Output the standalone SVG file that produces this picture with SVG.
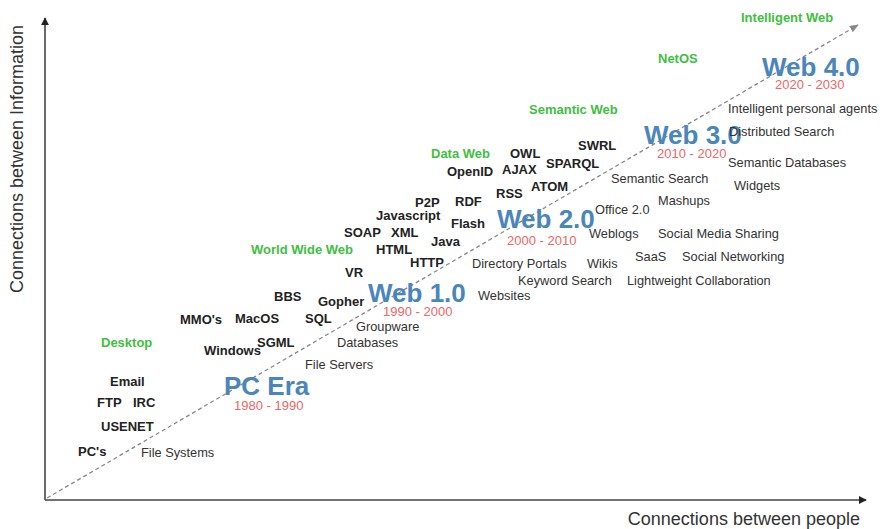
<svg xmlns="http://www.w3.org/2000/svg" width="880" height="529" viewBox="0 0 880 529">
<defs>
<style>
text{font-family:"Liberation Sans",Arial,sans-serif}
.ax{font-size:18px;fill:#333}
.k{font-size:13px;font-weight:bold;fill:#222}
.g{font-size:13px;font-weight:bold;fill:#40c040}
.t{font-size:12.8px;fill:#333}
.era{font-size:26px;font-weight:bold;fill:#4a86ba}
.yr{font-size:13px;fill:#ee6666}
.axis{stroke:#444;stroke-width:1.6;fill:none}
.trend{stroke:#888;stroke-width:1.3;stroke-dasharray:4 3;fill:none}
</style>
<marker id="ah" viewBox="0 0 10 10" refX="9" refY="5" markerWidth="8" markerHeight="8" markerUnits="userSpaceOnUse" orient="auto">
<path d="M0,0 L10,5 L0,10 z" fill="#222"/>
</marker>
<marker id="ah2" viewBox="0 0 10 10" refX="9" refY="5" markerWidth="9" markerHeight="9" markerUnits="userSpaceOnUse" orient="auto">
<path d="M0,1 L10,5 L0,9 z" fill="#888"/>
</marker>
</defs>
<rect width="880" height="529" fill="#fff"/>
<g id="connectors">
<path class="axis" d="M45,500 L45,18" marker-end="url(#ah)"/>
<path class="axis" d="M45,500 L866,500" marker-end="url(#ah)"/>
<path class="trend" d="M47,498 L858,25" marker-end="url(#ah2)"/>
</g>
<g id="axis-labels">
<text class="ax" transform="translate(23,159) rotate(-90)" text-anchor="middle">Connections between Information</text>
<text class="ax" x="860" y="525" text-anchor="end">Connections between people</text>
</g>
<g id="eras">
<g id="pc-era"><text class="era" x="224" y="395">PC Era</text><text class="yr" x="234" y="410">1980 - 1990</text></g>
<g id="web1"><text class="era" x="368" y="302">Web 1.0</text><text class="yr" x="383" y="316">1990 - 2000</text></g>
<g id="web2"><text class="era" x="497" y="228">Web 2.0</text><text class="yr" x="507" y="245">2000 - 2010</text></g>
<g id="web3"><text class="era" x="644" y="144">Web 3.0</text><text class="yr" x="657" y="158">2010 - 2020</text></g>
<g id="web4"><text class="era" x="762" y="76">Web 4.0</text><text class="yr" x="775" y="89">2020 - 2030</text></g>
</g>
<g id="phases">
<text class="g" x="101" y="347">Desktop</text>
<text class="g" x="251" y="254">World Wide Web</text>
<text class="g" x="431" y="158">Data Web</text>
<text class="g" x="529" y="114">Semantic Web</text>
<text class="g" x="658" y="63">NetOS</text>
<text class="g" x="741" y="22">Intelligent Web</text>
</g>
<g id="technologies">
<text class="k" x="78" y="456">PC's</text>
<text class="k" x="101" y="431">USENET</text>
<text class="k" x="97" y="407">FTP</text>
<text class="k" x="133" y="407">IRC</text>
<text class="k" x="110" y="386">Email</text>
<text class="k" x="204" y="355">Windows</text>
<text class="k" x="257" y="347">SGML</text>
<text class="k" x="180" y="324">MMO's</text>
<text class="k" x="235" y="323">MacOS</text>
<text class="k" x="305" y="323">SQL</text>
<text class="k" x="274" y="301">BBS</text>
<text class="k" x="318" y="306">Gopher</text>
<text class="k" x="345" y="277">VR</text>
<text class="k" x="410" y="267">HTTP</text>
<text class="k" x="376" y="254">HTML</text>
<text class="k" x="344" y="237">SOAP</text>
<text class="k" x="391" y="237">XML</text>
<text class="k" x="431" y="246">Java</text>
<text class="k" x="376" y="220">Javascript</text>
<text class="k" x="415" y="207">P2P</text>
<text class="k" x="455" y="206">RDF</text>
<text class="k" x="451" y="228">Flash</text>
<text class="k" x="496" y="198">RSS</text>
<text class="k" x="531" y="191">ATOM</text>
<text class="k" x="447" y="176">OpenID</text>
<text class="k" x="502" y="174">AJAX</text>
<text class="k" x="510" y="158">OWL</text>
<text class="k" x="546" y="168">SPARQL</text>
<text class="k" x="578" y="150">SWRL</text>
</g>
<g id="applications">
<text class="t" x="141" y="457">File Systems</text>
<text class="t" x="305" y="369">File Servers</text>
<text class="t" x="337" y="347">Databases</text>
<text class="t" x="356" y="331">Groupware</text>
<text class="t" x="478" y="300">Websites</text>
<text class="t" x="472" y="268">Directory Portals</text>
<text class="t" x="518" y="285">Keyword Search</text>
<text class="t" x="587" y="268">Wikis</text>
<text class="t" x="627" y="285">Lightweight Collaboration</text>
<text class="t" x="635" y="261">SaaS</text>
<text class="t" x="682" y="261">Social Networking</text>
<text class="t" x="589" y="238">Weblogs</text>
<text class="t" x="658" y="238">Social Media Sharing</text>
<text class="t" x="595" y="214">Office 2.0</text>
<text class="t" x="658" y="205">Mashups</text>
<text class="t" x="611" y="183">Semantic Search</text>
<text class="t" x="734" y="190">Widgets</text>
<text class="t" x="728" y="167">Semantic Databases</text>
<text class="t" x="729" y="136">Distributed Search</text>
<text class="t" x="728" y="113">Intelligent personal agents</text>
</g>
</svg>
